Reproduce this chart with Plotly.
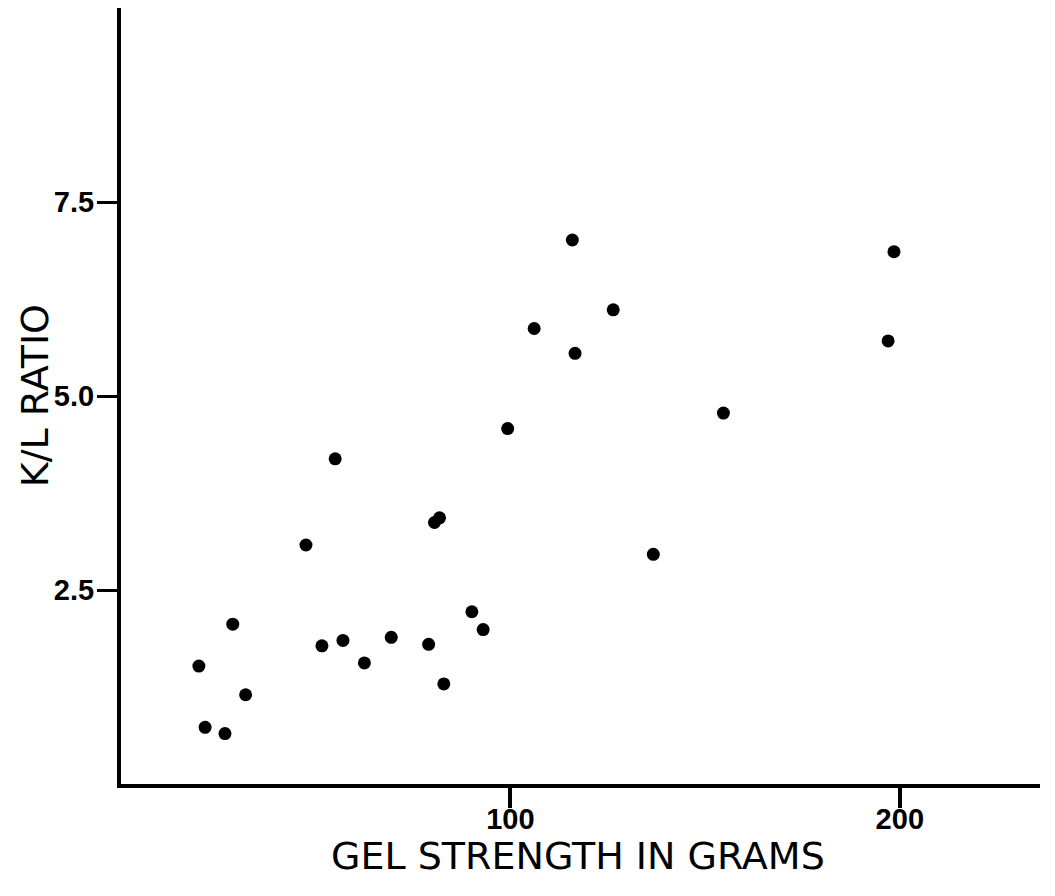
import plotly.graph_objects as go

# Gel strength (grams) vs K/L ratio
gel_strength = [20.0, 21.6, 26.7, 28.7, 32.0, 47.5, 51.6, 55.0, 57.0, 62.5,
                69.4, 79.0, 80.5, 81.8, 82.9, 90.1, 93.0, 99.3, 106.1, 115.9,
                116.6, 126.4, 136.7, 154.7, 197.0, 198.5]
kl_ratio = [1.52, 0.73, 0.65, 2.06, 1.15, 3.08, 1.78, 4.19, 1.85, 1.56,
            1.89, 1.80, 3.37, 3.43, 1.29, 2.22, 1.99, 4.58, 5.87, 7.01,
            5.55, 6.11, 2.96, 4.78, 5.71, 6.86]

x_tickvals = [100, 200]
x_ticktext = ["100", "200"]
y_tickvals = [2.5, 5.0, 7.5]
y_ticktext = ["2.5", "5.0", "7.5"]
x_title = "GEL STRENGTH IN GRAMS"
y_title = "K/L RATIO"

fig = go.Figure()
fig.add_trace(go.Scatter(
    x=gel_strength, y=kl_ratio, mode="markers",
    marker=dict(size=13, color="black"),
    showlegend=False, hoverinfo="x+y",
))

title_font = "DejaVu Sans, sans-serif"
tick_font = "Liberation Sans, Arial, sans-serif"

fig.update_layout(
    width=1055, height=896,
    margin=dict(l=121, r=15, t=8, b=112),
    paper_bgcolor="white", plot_bgcolor="white",
    font=dict(family=title_font, color="black", size=26),
    xaxis=dict(
        range=[0, 236], showgrid=False, zeroline=False,
        showline=True, linecolor="black", linewidth=4,
        ticks="outside", ticklen=20, tickwidth=4, tickcolor="black",
        tickvals=x_tickvals, ticktext=x_ticktext,
        tickfont=dict(size=29, family=tick_font, weight="bold"),
        ticklabelstandoff=-14,
    ),
    yaxis=dict(
        range=[0, 10], showgrid=False, zeroline=False,
        showline=True, linecolor="black", linewidth=4,
        ticks="outside", ticklen=20, tickwidth=3, tickcolor="black",
        tickvals=y_tickvals, ticktext=y_ticktext,
        tickfont=dict(size=29, family=tick_font, weight="bold"),
        ticklabelstandoff=-3,
    ),
    annotations=[
        dict(text=x_title, xref="paper", yref="paper", x=0.497, y=-0.0928,
             xanchor="center", yanchor="middle", showarrow=False,
             font=dict(size=38, family=title_font, color="black")),
        dict(text=y_title, xref="paper", yref="paper", x=-0.0936, y=0.501,
             xanchor="center", yanchor="middle", showarrow=False, textangle=-90,
             font=dict(size=38, family=title_font, color="black")),
    ],
)

fig.write_html("out.html")
